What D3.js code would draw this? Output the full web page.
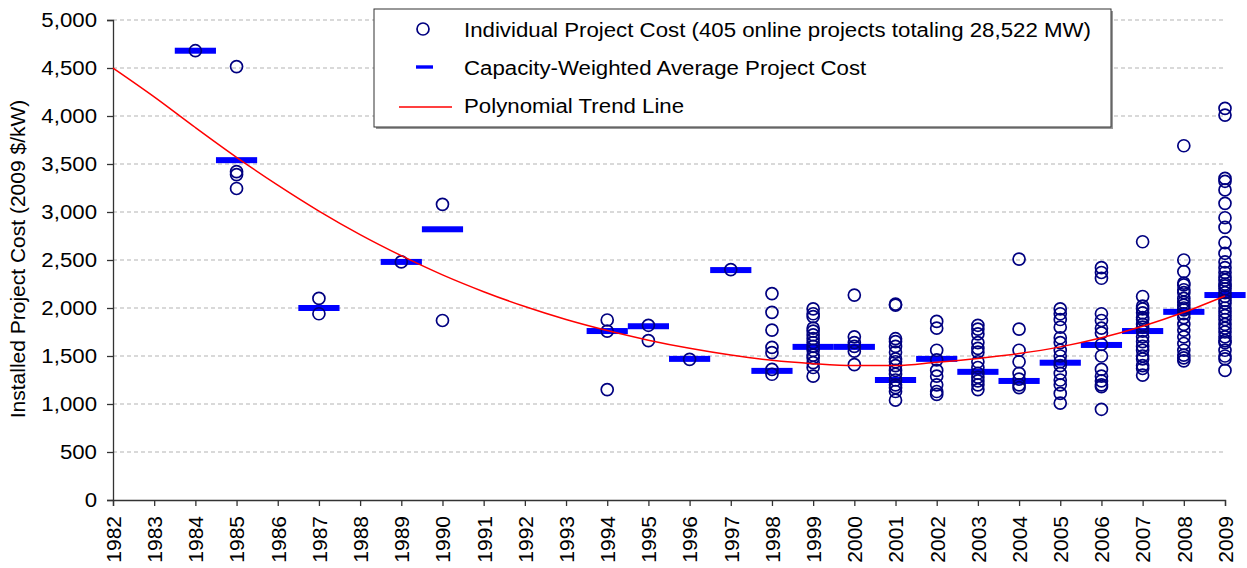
<!DOCTYPE html>
<meta charset="utf-8">
<style>
body { margin: 0; background: #fff; }
text { font-family: "Liberation Sans", Arial, sans-serif; fill: #000; }
</style>
<svg width="1247" height="568"></svg>
<script src="https://d3js.org/d3.v7.min.js"></script>
<script>

// years on the axis
var axisYears = d3.range(1982, 2010);
var yTicks = [0, 500, 1000, 1500, 2000, 2500, 3000, 3500, 4000, 4500, 5000];

// capacity-weighted average cost per year
var avgYears = [1984, 1985, 1987, 1989, 1990, 1994, 1995, 1996, 1997, 1998, 1999, 2000, 2001, 2002, 2003, 2004, 2005, 2006, 2007, 2008, 2009];
var avgCost  = [4680, 3540, 2000, 2480, 2820, 1760, 1810, 1470, 2395, 1345, 1595, 1595, 1250, 1470, 1335, 1240, 1430, 1615, 1760, 1960, 2135];

// polynomial trend line, one value per year 1982..2009
var trendCost = [4500, 4200, 3880, 3570, 3280, 3010, 2765, 2545, 2345, 2170, 2015, 1880, 1765, 1665,
                 1580, 1510, 1455, 1420, 1400, 1400, 1435, 1475, 1525, 1595, 1690, 1810, 1955, 2125];

// individual project costs, grouped by year
var projectYears = [1984, 1985, 1987, 1989, 1990, 1994, 1995, 1996, 1997, 1998, 1999, 2000, 2001, 2002, 2003, 2004, 2005, 2006, 2007, 2008, 2009];
var projectCosts = [
  [4680],
  [4515, 3420, 3390, 3245],
  [2100, 1940],
  [2480],
  [3080, 1870],
  [1875, 1760, 1150],
  [1820, 1660],
  [1465],
  [2400],
  [2150, 1955, 1770, 1590, 1535, 1360, 1310],
  [1990, 1940, 1910, 1790, 1760, 1720, 1680, 1640, 1600, 1560, 1510, 1480, 1430, 1380, 1290],
  [2135, 1700, 1640, 1600, 1550, 1410],
  [2040, 2030, 1680, 1650, 1600, 1540, 1470, 1440, 1400, 1350, 1310, 1250, 1200, 1170, 1130, 1040],
  [1860, 1790, 1560, 1460, 1350, 1290, 1200, 1130, 1100],
  [1820, 1780, 1730, 1640, 1580, 1540, 1440, 1380, 1320, 1280, 1240, 1200, 1150],
  [2510, 1780, 1560, 1440, 1320, 1260, 1200, 1170],
  [1990, 1940, 1880, 1800, 1690, 1640, 1560, 1500, 1440, 1400, 1320, 1250, 1200, 1110, 1010],
  [2420, 2370, 2310, 1940, 1870, 1790, 1740, 1620, 1500, 1360, 1290, 1240, 1200, 1180, 945],
  [2690, 2120, 2020, 1990, 1950, 1900, 1880, 1830, 1800, 1760, 1700, 1650, 1600, 1560, 1500, 1470, 1400, 1370, 1300],
  [3690, 2500, 2380, 2260, 2240, 2190, 2160, 2100, 2060, 2030, 2000, 1980, 1940, 1900, 1830, 1770, 1700, 1630, 1560, 1510, 1480, 1450],
  [4080, 4010, 3350, 3320, 3230, 3090, 2940, 2840, 2680, 2570, 2480, 2420, 2370, 2320, 2290, 2250, 2230, 2200, 2160, 2120,
   2080, 2050, 2000, 1960, 1920, 1880, 1830, 1790, 1750, 1700, 1660, 1640, 1560, 1500, 1470, 1350]
];

var legendLabels = [
  "Individual Project Cost (405 online projects totaling 28,522 MW)",
  "Capacity-Weighted Average Project Cost",
  "Polynomial Trend Line"
];

var svg = d3.select("svg");
var fs = 21, stretch = 1.06;

var x = d3.scaleLinear().domain([1982, 2009]).range([113, 1225]);
var y = d3.scaleLinear().domain([0, 5000]).range([500, 20]);

// grid
svg.append("g")
  .selectAll("line")
  .data(yTicks.filter(function(d) { return d > 0; }))
  .enter().append("line")
    .attr("x1", x(1982)).attr("x2", x(2009))
    .attr("y1", function(d) { return y(d); })
    .attr("y2", function(d) { return y(d); })
    .attr("stroke", "#b4b4b4")
    .attr("stroke-width", 1.2)
    .attr("stroke-dasharray", "4,3");

// axes
var yAxis = svg.append("g")
  .attr("transform", "translate(" + x(1982) + ",0)")
  .call(d3.axisLeft(y).tickValues(yTicks).tickSize(6).tickFormat(d3.format(",")));

var xAxis = svg.append("g")
  .attr("transform", "translate(0," + y(0) + ")")
  .call(d3.axisBottom(x).tickValues(axisYears).tickSize(6).tickFormat(d3.format("d")));

[xAxis, yAxis].forEach(function(a) {
  a.select(".domain").attr("stroke", "#333").attr("stroke-width", 1.3);
  a.selectAll(".tick line").attr("stroke", "#333").attr("stroke-width", 1.3);
  a.selectAll("text").attr("font-size", fs).attr("fill", "#000")
    .style("font-family", "'Liberation Sans', Arial, sans-serif");
});

yAxis.selectAll(".tick text")
  .attr("x", -16 / stretch)
  .attr("transform", "scale(" + stretch + ",1)");

xAxis.selectAll(".tick text")
  .attr("transform", "rotate(-90)")
  .attr("text-anchor", "end")
  .attr("x", -16)
  .attr("y", 0)
  .attr("dy", "0.35em");

// y title
svg.append("text")
  .attr("transform", "translate(25,259) rotate(-90)")
  .attr("text-anchor", "middle")
  .attr("font-size", fs)
  .text("Installed Project Cost (2009 $/kW)");

var bandW = x(1983) - x(1982);

// weighted averages
svg.append("g")
  .selectAll("rect")
  .data(avgYears)
  .enter().append("rect")
    .attr("x", function(d) { return x(d) - bandW / 2; })
    .attr("y", function(d, i) { return y(avgCost[i]) - 3; })
    .attr("width", bandW)
    .attr("height", 6)
    .attr("fill", "#0000ff");

// project circles
var pts = [];
projectYears.forEach(function(yr, i) {
  projectCosts[i].forEach(function(c) { pts.push({year: yr, cost: c}); });
});

svg.append("g")
  .selectAll("circle")
  .data(pts)
  .enter().append("circle")
    .attr("cx", function(d) { return x(d.year); })
    .attr("cy", function(d) { return y(d.cost); })
    .attr("r", 6)
    .attr("fill", "none")
    .attr("stroke", "#000080")
    .attr("stroke-width", 1.7);

// trend line
var line = d3.line()
  .x(function(d, i) { return x(axisYears[i]); })
  .y(function(d) { return y(d); })
  .curve(d3.curveMonotoneX);

svg.append("path")
  .datum(trendCost)
  .attr("d", line)
  .attr("fill", "none")
  .attr("stroke", "#ff0000")
  .attr("stroke-width", 1.5);

// legend
var lg = svg.append("g");
lg.append("rect")
  .attr("x", 376).attr("y", 11).attr("width", 737).attr("height", 118)
  .attr("fill", "#999");
lg.append("rect")
  .attr("x", 374).attr("y", 9).attr("width", 737).attr("height", 118)
  .attr("fill", "#fff").attr("stroke", "#333").attr("stroke-width", 1);

var rowY = [30, 68, 106];
lg.append("circle")
  .attr("cx", 423).attr("cy", rowY[0] - 1).attr("r", 6)
  .attr("fill", "none").attr("stroke", "#000080").attr("stroke-width", 1.7);
lg.append("rect")
  .attr("x", 416).attr("y", rowY[1] - 2.7).attr("width", 17).attr("height", 3.4)
  .attr("fill", "#0000ff");
lg.append("line")
  .attr("x1", 399).attr("x2", 452).attr("y1", rowY[2] + 1).attr("y2", rowY[2] + 1)
  .attr("stroke", "#ff0000").attr("stroke-width", 1.5);

lg.selectAll("text.lab")
  .data(legendLabels)
  .enter().append("text")
    .attr("class", "lab")
    .attr("transform", function(d, i) { return "translate(464," + rowY[i] + ") scale(" + stretch + ",1)"; })
    .attr("dy", "0.35em")
    .attr("font-size", fs)
    .text(function(d) { return d; });

</script>
